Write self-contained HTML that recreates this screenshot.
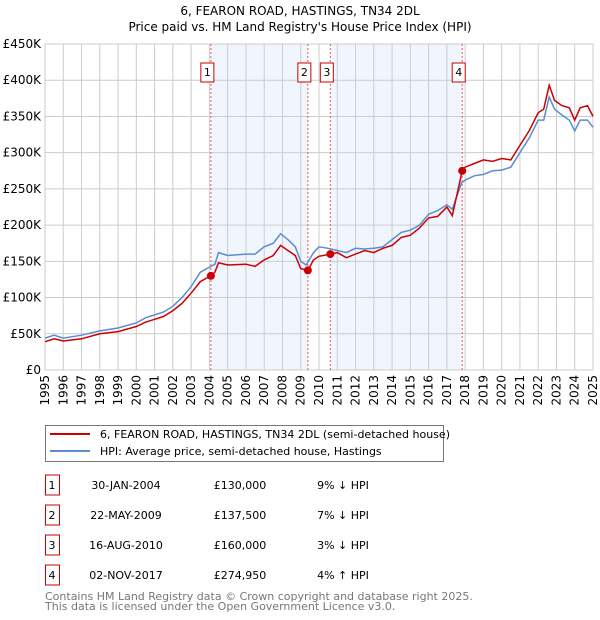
<!DOCTYPE html>
<html><head><meta charset="utf-8"><style>
body{margin:0;background:#fff;}
svg{display:block;font-family:"DejaVu Sans","Liberation Sans",sans-serif;}
</style></head><body>
<svg id="c" width="600" height="620" xmlns="http://www.w3.org/2000/svg">
<text x="300" y="15" text-anchor="middle" font-size="12">6, FEARON ROAD, HASTINGS, TN34 2DL</text>
<text x="300" y="31" text-anchor="middle" font-size="12">Price paid vs. HM Land Registry's House Price Index (HPI)</text>
<g id="plot"></g>
<g>
<rect x="45.5" y="425.5" width="398" height="36" fill="#fff" stroke="#777"/>
<line x1="50" y1="434" x2="90" y2="434" stroke="#cc0000" stroke-width="2"/>
<text x="100" y="438" font-size="11">6, FEARON ROAD, HASTINGS, TN34 2DL (semi-detached house)</text>
<line x1="50" y1="451" x2="90" y2="451" stroke="#5b8dd0" stroke-width="2"/>
<text x="100" y="455" font-size="11">HPI: Average price, semi-detached house, Hastings</text>
</g>
<g id="tbl" font-size="11"></g>
<text x="45" y="600" font-size="11" fill="#777">Contains HM Land Registry data © Crown copyright and database right 2025.</text>
<text x="45" y="610" font-size="11" fill="#777">This data is licensed under the Open Government Licence v3.0.</text>
</svg>
<script>
const hpiYears=[1995,1995.5,1996,1997,1998,1999,2000,2000.5,2001,2001.5,2002,2002.5,2003,2003.5,2004,2004.3,2004.5,2005,2006,2006.5,2007,2007.5,2007.9,2008.3,2008.7,2009,2009.3,2009.7,2010,2010.5,2011,2011.5,2012,2012.5,2013,2013.5,2014,2014.5,2015,2015.5,2016,2016.5,2017,2017.3,2017.8,2018,2018.5,2019,2019.5,2020,2020.5,2021,2021.5,2022,2022.3,2022.6,2022.9,2023.3,2023.7,2024,2024.3,2024.7,2025];
const hpiValues=[44,48,44,48,54,58,65,72,76,80,88,100,115,135,142,146,162,158,160,160,170,175,188,180,170,150,145,162,170,168,165,162,168,167,168,170,180,190,193,200,215,220,228,222,258,262,268,270,275,276,280,300,320,345,345,377,360,352,345,330,345,345,335];
const priceYears=[1995,1995.5,1996,1997,1998,1999,2000,2000.5,2001,2001.5,2002,2002.5,2003,2003.5,2004.08,2004.3,2004.5,2005,2006,2006.5,2007,2007.5,2007.9,2008.3,2008.7,2009,2009.39,2009.7,2010,2010.62,2011,2011.5,2012,2012.5,2013,2013.5,2014,2014.5,2015,2015.5,2016,2016.5,2017,2017.3,2017.84,2018,2018.5,2019,2019.5,2020,2020.5,2021,2021.5,2022,2022.3,2022.6,2022.9,2023.3,2023.7,2024,2024.3,2024.7,2025];
const priceValues=[39,43,40,43,50,53,60,66,70,74,82,92,106,122,130,135,148,145,146,143,152,158,172,165,158,140,137.5,152,157,160,162,155,160,165,162,168,172,183,186,196,210,212,225,213,275,280,285,290,288,292,290,310,330,355,360,393,372,365,362,345,362,365,350];
const saleYears=[2004.08,2009.39,2010.62,2017.84];
const salePrices=[130,137.5,160,274.95];
const saleLabels=["1","2","3","4"];
const saleDates=["30-JAN-2004","22-MAY-2009","16-AUG-2010","02-NOV-2017"];
const salePriceText=["£130,000","£137,500","£160,000","£274,950"];
const saleHpiText=["9% ↓ HPI","7% ↓ HPI","3% ↓ HPI","4% ↑ HPI"];
const yTicks=[0,50,100,150,200,250,300,350,400,450];
const yTickLabels=["£0","£50K","£100K","£150K","£200K","£250K","£300K","£350K","£400K","£450K"];
const xTicks=[1995,1996,1997,1998,1999,2000,2001,2002,2003,2004,2005,2006,2007,2008,2009,2010,2011,2012,2013,2014,2015,2016,2017,2018,2019,2020,2021,2022,2023,2024,2025];

const L=45,R=593,T=44,B=370;
const X=y=>L+(y-1995)/30*(R-L);
const Y=v=>B-v/450*(B-T);
const NS="http://www.w3.org/2000/svg";
const g=document.getElementById('plot');
function mk(t,a,p){const e=document.createElementNS(NS,t);for(const k in a)e.setAttribute(k,a[k]);(p||g).appendChild(e);return e;}

const spans=[[0,1],[2,3]];
spans.forEach((s,i)=>{const r=mk('rect',{x:X(saleYears[s[0]]),y:T,width:X(saleYears[s[1]])-X(saleYears[s[0]]),height:B-T,fill:'#eef2fc',opacity:0.8});

});
yTicks.forEach((v,i)=>{const l=mk('line',{x1:L,x2:R,y1:Y(v),y2:Y(v),stroke:'#ccc'});


const t=mk('text',{x:L-4,y:Y(v)+4,'text-anchor':'end','font-size':12});t.textContent=yTickLabels[i];

});
xTicks.forEach(yr=>{const l=mk('line',{x1:X(yr),x2:X(yr),y1:T,y2:B,stroke:'#ccc'});


const x=X(yr)+4,y=B+5;
const t=mk('text',{x:x,y:y,'text-anchor':'end','font-size':12,transform:`rotate(-90 ${x} ${y})`});t.textContent=yr;

});
mk('rect',{x:L,y:T,width:R-L,height:B-T,fill:'none',stroke:'#ccc'});
saleYears.forEach((yr,i)=>{const l=mk('line',{x1:X(yr),x2:X(yr),y1:T,y2:B,stroke:'#e55','stroke-dasharray':'2,2'});


const bx=mk('rect',{x:X(yr)-10,y:63,width:13,height:19,fill:'#fff',stroke:'#c00'});


const t=mk('text',{x:X(yr)-3.5,y:76,'text-anchor':'middle','font-size':11});t.textContent=saleLabels[i];

});
const pts=(xs,vs)=>xs.map((x,i)=>X(x).toFixed(1)+','+Y(vs[i]).toFixed(1)).join(' ');
const hl=mk('polyline',{points:pts(hpiYears,hpiValues),fill:'none',stroke:'#5b8dd0','stroke-width':1.5});


const pl=mk('polyline',{points:pts(priceYears,priceValues),fill:'none',stroke:'#cc0000','stroke-width':1.5});


saleYears.forEach((yr,i)=>{const c=mk('circle',{cx:X(yr),cy:Y(salePrices[i]),r:4,fill:'#cc0000'});

});
const tb=document.getElementById('tbl');
saleLabels.forEach((lab,i)=>{const cy=485+i*30;
const b=mk('rect',{x:45.5,y:cy-10,width:14,height:20,fill:'#fff',stroke:'#c00'},tb);


const cells=[[52,lab],[126,saleDates[i]],[240,salePriceText[i]],[343,saleHpiText[i]]];
cells.forEach(c=>{const t=mk('text',{x:c[0],y:cy+4,'text-anchor':'middle'},tb);t.textContent=c[1];

});});
</script>
</body></html>
